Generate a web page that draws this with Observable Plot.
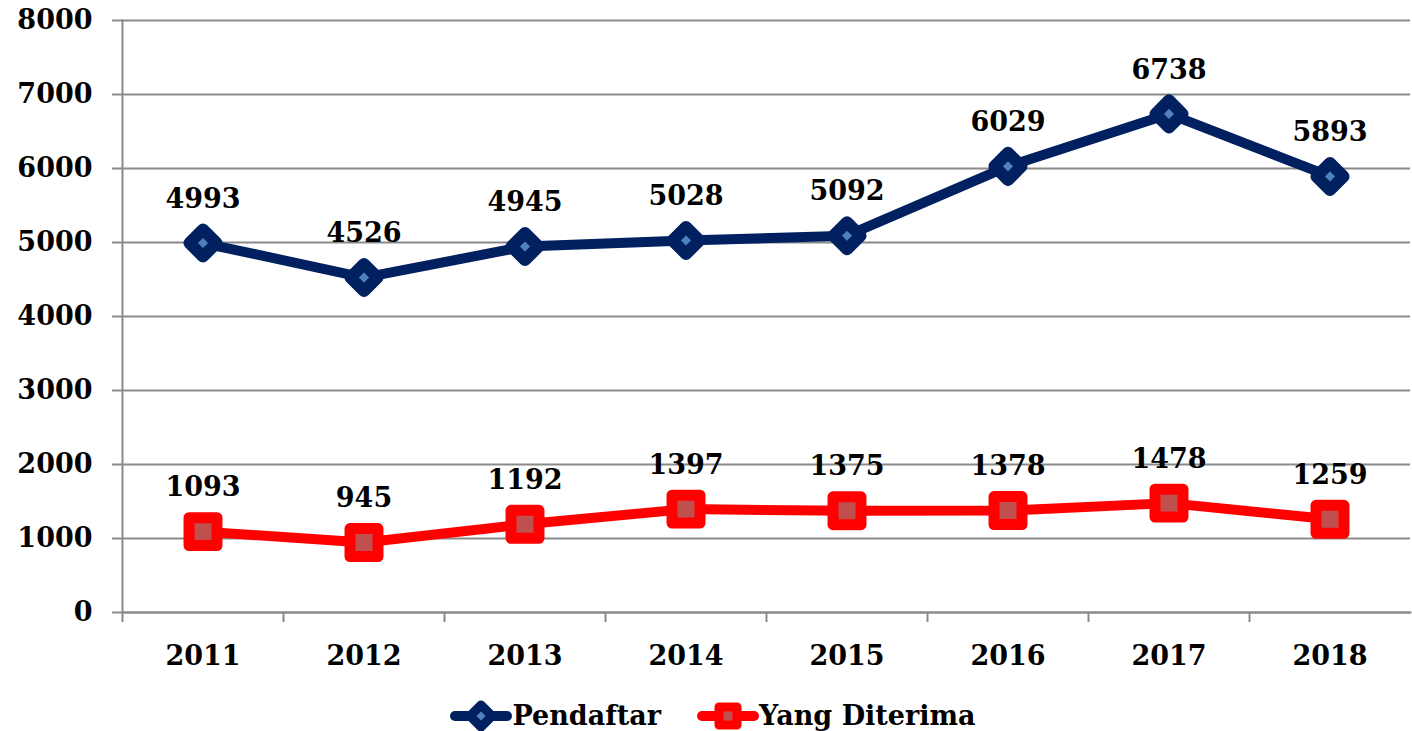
<!DOCTYPE html>
<html>
<head>
<meta charset="utf-8">
<script src="https://cdn.jsdelivr.net/npm/d3@7"></script>
<script src="https://cdn.jsdelivr.net/npm/@observablehq/plot@0.6"></script>
<style>
  html, body { margin: 0; padding: 0; background: #fff; }
  body { width: 1412px; height: 731px; overflow: hidden; font-family: "DejaVu Serif", serif; font-weight: bold; }
  #legend { display: flex; justify-content: center; align-items: center; height: 51px; font-size: 27px; color: #000; margin-top: 10px; padding-left: 14px; }
  #legend .item { display: flex; align-items: center; margin: 0 18px; }
</style>
</head>
<body>
<div id="chart"></div>
<div id="legend"></div>
<script>
const years = ["2011","2012","2013","2014","2015","2016","2017","2018"];
const pendaftar = [4993, 4526, 4945, 5028, 5092, 6029, 6738, 5893];
const diterima = [1093, 945, 1192, 1397, 1375, 1378, 1478, 1259];
const yTicks = [0,1000,2000,3000,4000,5000,6000,7000,8000];
const seriesNames = ["Pendaftar", "Yang Diterima"];
const colors = {navy: "#002060", navyInner: "#4f81bd", red: "#ff0000", redInner: "#c0504d", grid: "#8a8a8a"};

const dataP = years.map((y,i) => ({year: y, value: pendaftar[i]}));
const dataD = years.map((y,i) => ({year: y, value: diterima[i]}));

const W = 1412, H = 680, ML = 122, MR = 2, MT = 20, MB = 68;
const bw = (W - ML - MR) / years.length;
const plotH = H - MT - MB;
const FS = 27;

const chart = Plot.plot({
  width: W, height: H,
  marginLeft: ML, marginRight: MR, marginTop: MT, marginBottom: MB,
  style: {fontFamily: "'DejaVu Serif', serif", fontSize: FS + "px", fontWeight: "bold", color: "#000", background: "#fff"},
  x: {type: "band", domain: years, padding: 0},
  y: {domain: [0, 8000]},
  marks: [
    Plot.gridY(yTicks, {stroke: colors.grid, strokeOpacity: 1, strokeWidth: 2}),
    Plot.axisY(yTicks, {tickSize: 10, tickPadding: 20, stroke: colors.grid, strokeWidth: 2, tickFormat: d => String(d), fontSize: FS, fontWeight: "bold", fill: "#000", label: null}),
    Plot.axisX(years, {tickSize: 0, tickPadding: 33, fontSize: FS, fontWeight: "bold", fill: "#000", label: null}),
    Plot.frame({anchor: "left", stroke: colors.grid, strokeWidth: 2}),
    Plot.frame({anchor: "bottom", stroke: colors.grid, strokeWidth: 2}),
    Plot.ruleX(years, {x: d => d, dx: -bw/2, insetTop: plotH - 10, dy: 10, stroke: colors.grid, strokeWidth: 2}),
    Plot.line(dataP, {x: "year", y: "value", stroke: colors.navy, strokeWidth: 10, strokeLinejoin: "round", strokeLinecap: "round"}),
    Plot.line(dataD, {x: "year", y: "value", stroke: colors.red, strokeWidth: 10, strokeLinejoin: "round", strokeLinecap: "round"}),
    Plot.dot(dataP, {x: "year", y: "value", symbol: "diamond2", r: 12.2, fill: colors.navyInner, stroke: colors.navy, strokeWidth: 12, strokeLinejoin: "round"}),
    Plot.dot(dataD, {x: "year", y: "value", symbol: "square2", r: 17.8, fill: colors.redInner, stroke: colors.red, strokeWidth: 11, strokeLinejoin: "round"}),
    Plot.text(dataP, {x: "year", y: "value", text: d => String(d.value), dy: -44, fontSize: FS, fontWeight: "bold", fill: "#000"}),
    Plot.text(dataD, {x: "year", y: "value", text: d => String(d.value), dy: -44, fontSize: FS, fontWeight: "bold", fill: "#000"})
  ]
});
document.getElementById("chart").appendChild(chart);

// Legend
const legend = document.getElementById("legend");
function makeItem(name, kind) {
  const item = document.createElement("div");
  item.className = "item";
  const ns = "http://www.w3.org/2000/svg";
  const s = document.createElementNS(ns, "svg");
  s.setAttribute("width", 62); s.setAttribute("height", 40);
  const line = document.createElementNS(ns, "line");
  line.setAttribute("x1", 5); line.setAttribute("x2", 57); line.setAttribute("y1", 20); line.setAttribute("y2", 20);
  line.setAttribute("stroke", kind === "d" ? colors.navy : colors.red);
  line.setAttribute("stroke-width", 10); line.setAttribute("stroke-linecap", "round");
  s.appendChild(line);
  const p = document.createElementNS(ns, "path");
  if (kind === "d") {
    p.setAttribute("d", "M31,9L42,20L31,31L20,20Z");
    p.setAttribute("fill", colors.navyInner); p.setAttribute("stroke", colors.navy);
    p.setAttribute("stroke-width", 9);
  } else {
    p.setAttribute("d", "M22,11H40V29H22Z");
    p.setAttribute("fill", colors.redInner); p.setAttribute("stroke", colors.red);
    p.setAttribute("stroke-width", 9);
  }
  p.setAttribute("stroke-linejoin", "round");
  s.appendChild(p);
  item.appendChild(s);
  const t = document.createElement("span");
  t.textContent = name;
  item.appendChild(t);
  return item;
}
legend.appendChild(makeItem(seriesNames[0], "d"));
legend.appendChild(makeItem(seriesNames[1], "s"));
</script>
</body>
</html>
